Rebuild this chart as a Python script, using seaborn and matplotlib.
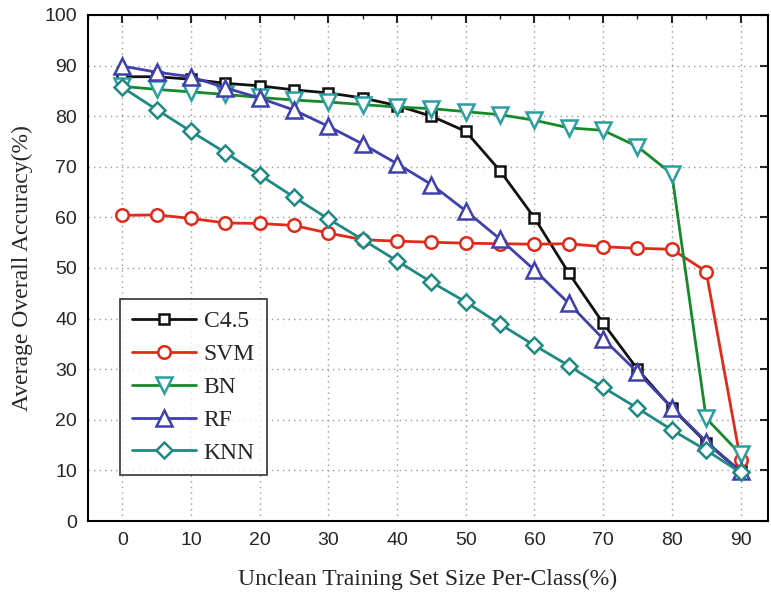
import matplotlib
matplotlib.use("Agg")
import matplotlib.pyplot as plt
import seaborn as sns
import pandas as pd
from matplotlib.ticker import MultipleLocator

x = [0, 5, 10, 15, 20, 25, 30, 35, 40, 45, 50, 55, 60, 65, 70, 75, 80, 85, 90]
c45 = [87.8, 87.8, 87.3, 86.5, 86.0, 85.2, 84.6, 83.6, 82.1, 80.0, 77.0, 69.2, 59.9, 49.0, 39.1, 30.0, 22.3, 15.5, 9.8]
svm = [60.4, 60.5, 59.8, 58.9, 58.8, 58.4, 56.9, 55.6, 55.3, 55.1, 54.9, 54.8, 54.7, 54.8, 54.2, 53.9, 53.7, 49.3, 12.0]
bn = [85.9, 85.3, 84.8, 84.3, 83.7, 83.2, 82.8, 82.3, 81.8, 81.5, 80.9, 80.3, 79.2, 77.7, 77.2, 74.0, 68.6, 20.3, 13.2]
rf = [89.9, 88.7, 87.8, 85.6, 83.6, 81.2, 78.0, 74.5, 70.6, 66.5, 61.3, 55.7, 49.6, 43.0, 36.0, 29.4, 22.4, 15.7, 9.8]
knn = [85.7, 81.3, 77.0, 72.8, 68.4, 64.0, 59.7, 55.6, 51.4, 47.2, 43.3, 38.9, 34.7, 30.7, 26.4, 22.3, 18.0, 14.0, 9.6]
names = ["C4.5", "SVM", "BN", "RF", "KNN"]
series = [c45, svm, bn, rf, knn]
x_ticks = [0, 10, 20, 30, 40, 50, 60, 70, 80, 90]
y_ticks = [0, 10, 20, 30, 40, 50, 60, 70, 80, 90, 100]

df = pd.concat([pd.DataFrame({"x": x, "y": s, "model": n}) for n, s in zip(names, series)])

sns.set_style("white")
plt.rcParams["font.family"] = ["Liberation Serif", "DejaVu Serif"]

line_colors = {"C4.5": "#111111", "SVM": "#e02a1a", "BN": "#17892a", "RF": "#3f3fae", "KNN": "#1f8a84"}
edge_colors = {"C4.5": "#111111", "SVM": "#e02a1a", "BN": "#2a9ea0", "RF": "#3f3fae", "KNN": "#1f8a84"}
markers = {"C4.5": "s", "SVM": "o", "BN": "v", "RF": "^", "KNN": "D"}
msizes = {"C4.5": 7, "SVM": 9, "BN": 11, "RF": 11, "KNN": 8}

fig = plt.figure(figsize=(7.71, 5.99), dpi=100)
ax = fig.add_axes([88 / 771, 1 - 521 / 599, 680 / 771, 506 / 599])

for n in names:
    sub = df[df["model"] == n]
    sns.lineplot(data=sub, x="x", y="y", ax=ax, color=line_colors[n], lw=2.0,
                 marker=markers[n], markersize=msizes[n], markerfacecolor="white",
                 markeredgecolor=edge_colors[n], markeredgewidth=1.8, label=n)

ax.set_xlim(-5, 94)
ax.set_ylim(0, 100)
ax.set_xticks(x_ticks)
ax.set_yticks(y_ticks)
ax.xaxis.set_minor_locator(MultipleLocator(5))
ax.grid(True, which="major", linestyle=(0, (1, 3)), color="#999999", lw=1)
ax.tick_params(which="major", direction="in", length=6, width=1.5, top=True, right=True,
               labelsize=14, pad=8)
ax.tick_params(which="minor", direction="in", length=3, width=1, top=True, right=True)
for lab in ax.get_xticklabels() + ax.get_yticklabels():
    lab.set_fontfamily(["Liberation Sans Narrow", "Liberation Sans", "DejaVu Sans"])
for sp in ax.spines.values():
    sp.set_linewidth(1.5)
    sp.set_color("black")

ax.set_xlabel("Unclean Training Set Size Per-Class(%)", fontsize=17, labelpad=14)
ax.set_ylabel("Average Overall Accuracy(%)", fontsize=17, labelpad=8)

leg = ax.legend(loc="upper left", bbox_to_anchor=(0.047, 0.439), fontsize=17, frameon=True,
                fancybox=False, edgecolor="black", handlelength=2.7, borderpad=0.5,
                labelspacing=0.48, handletextpad=0.35, borderaxespad=0)
leg.get_frame().set_linewidth(1.2)

fig.savefig("out.png", dpi=100)
